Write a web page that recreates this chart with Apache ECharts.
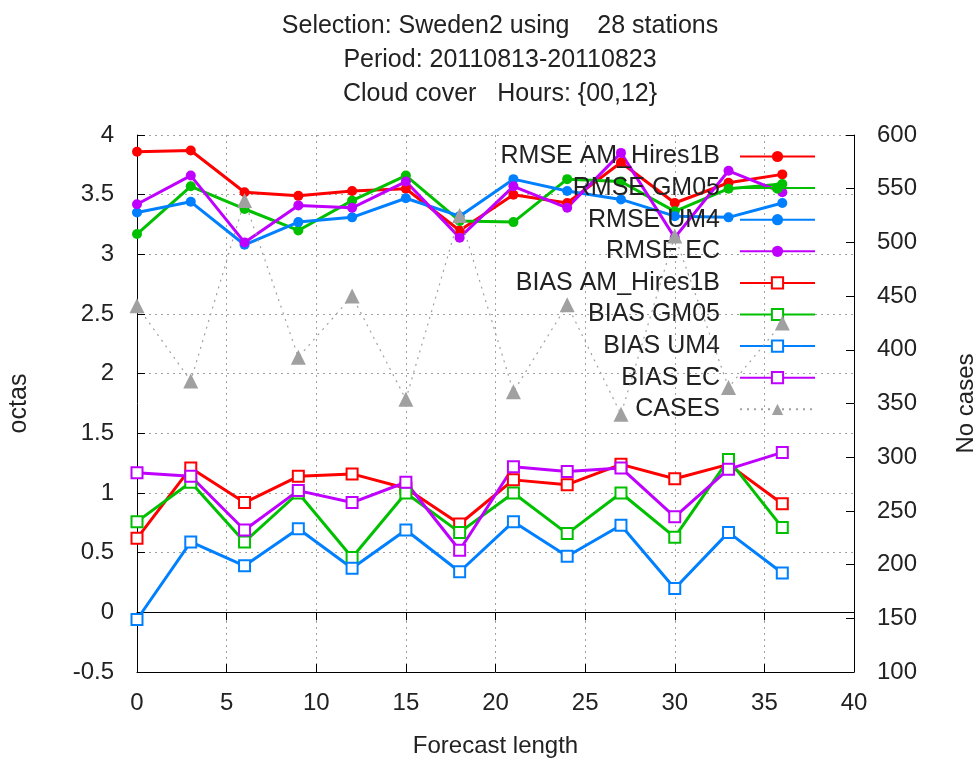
<!DOCTYPE html>
<html>
<head>
<meta charset="utf-8">
<script src="https://cdn.jsdelivr.net/npm/echarts@6/dist/echarts.min.js"></script>
<style>html,body{margin:0;padding:0;background:#fff}#c{width:977px;height:765px}</style>
</head>
<body>
<div id="c"></div>
<script>
const forecastHours = [0, 3, 6, 9, 12, 15, 18, 21, 24, 27, 30, 33, 36];
const rmseAM   = [3.86, 3.87, 3.52, 3.49, 3.53, 3.55, 3.20, 3.50, 3.43, 3.77, 3.43, 3.60, 3.67];
const rmseGM05 = [3.17, 3.57, 3.38, 3.20, 3.45, 3.66, 3.28, 3.27, 3.63, 3.61, 3.36, 3.55, 3.59];
const rmseUM4  = [3.35, 3.44, 3.08, 3.27, 3.31, 3.47, 3.32, 3.63, 3.53, 3.46, 3.32, 3.31, 3.43];
const rmseEC   = [3.42, 3.66, 3.10, 3.41, 3.39, 3.61, 3.14, 3.57, 3.39, 3.85, 3.14, 3.70, 3.52];
const biasAM   = [0.62, 1.21, 0.92, 1.14, 1.16, 1.04, 0.74, 1.11, 1.07, 1.24, 1.12, 1.24, 0.91];
const biasGM05 = [0.76, 1.09, 0.59, 1.00, 0.46, 1.00, 0.67, 1.00, 0.66, 1.00, 0.63, 1.28, 0.71];
const biasUM4  = [-0.06, 0.59, 0.39, 0.70, 0.37, 0.69, 0.34, 0.76, 0.47, 0.73, 0.20, 0.67, 0.33];
const biasEC   = [1.17, 1.14, 0.69, 1.02, 0.92, 1.09, 0.52, 1.22, 1.18, 1.21, 0.80, 1.20, 1.34];
const cases    = [441, 371, 539, 393, 450, 354, 525, 361, 442, 340, 506, 365, 425];

const titleText = 'Selection: Sweden2 using    28 stations\nPeriod: 20110813-20110823\nCloud cover   Hours: {00,12}';

const FONT = 'Liberation Sans';
const TXT = '#222';
const pair = arr => forecastHours.map((h, i) => [h, arr[i]]);

function rmseSeries(name, color, data) {
  return {
    name, type: 'line', data: pair(data), yAxisIndex: 0,
    symbol: 'circle', symbolSize: 10,
    color: color,
    itemStyle: { color: color },
    lineStyle: { color: color, width: 3 },
    emphasis: { disabled: true }, z: 3
  };
}
function biasSeries(name, color, data) {
  return {
    name, type: 'line', data: pair(data), yAxisIndex: 0,
    symbol: 'rect', symbolSize: 11,
    color: color,
    itemStyle: { color: '#fff', borderColor: color, borderWidth: 2 },
    lineStyle: { color: color, width: 3 },
    emphasis: { disabled: true }, z: 3
  };
}

const series = [
  rmseSeries('RMSE AM_Hires1B', '#ff0000', rmseAM),
  rmseSeries('RMSE GM05', '#00c000', rmseGM05),
  rmseSeries('RMSE UM4', '#0080ff', rmseUM4),
  rmseSeries('RMSE EC', '#c000ff', rmseEC),
  biasSeries('BIAS AM_Hires1B', '#ff0000', biasAM),
  biasSeries('BIAS GM05', '#00c000', biasGM05),
  biasSeries('BIAS UM4', '#0080ff', biasUM4),
  biasSeries('BIAS EC', '#c000ff', biasEC),
  {
    name: 'CASES', type: 'line', data: pair(cases), yAxisIndex: 1,
    symbol: 'triangle', symbolSize: 15,
    color: '#a0a0a0',
    itemStyle: { color: '#a0a0a0' },
    lineStyle: { color: '#a0a0a0', width: 1.2, type: [2, 5] },
    emphasis: { disabled: true }, z: 4
  }
];

const gridLine = { show: true, lineStyle: { color: '#a0a0a0', type: [2, 4], width: 1 } };
const chart = echarts.init(document.getElementById('c'), null, { renderer: 'canvas' });
chart.setOption({
  animation: false,
  backgroundColor: '#fff',
  textStyle: { fontFamily: FONT },
  title: {
    text: titleText, left: 495, top: 4, textAlign: 'center',
    textStyle: { fontFamily: FONT, fontSize: 25, fontWeight: 'normal', color: TXT, lineHeight: 34 }
  },
  grid: { left: 137, right: 123, top: 135, bottom: 93, containLabel: false, outerBoundsMode: 'none' },
  legend: {
    right: 156, top: 139, orient: 'vertical', align: 'right',
    itemWidth: 75, itemHeight: 14, itemGap: 6.6,
    textStyle: { fontFamily: FONT, fontSize: 25, color: TXT, padding: [0, 15, 0, 0] },
    data: series.map(s => s.name)
  },
  xAxis: [{
    type: 'value', min: 0, max: 40, interval: 5,
    name: 'Forecast length', nameLocation: 'middle', nameGap: 62,
    nameTextStyle: { fontFamily: FONT, fontSize: 24, color: TXT },
    axisLine: { show: true, onZero: false, lineStyle: { color: '#000', width: 1 } },
    axisTick: { show: true, inside: true, length: 8, lineStyle: { color: '#000' } },
    axisLabel: { fontFamily: FONT, fontSize: 24, color: TXT, margin: 19 },
    splitLine: gridLine
  }, {
    type: 'value', min: 0, max: 40, interval: 5, position: 'top',
    axisLine: { show: true, lineStyle: { color: '#000', width: 1 } },
    axisTick: { show: true, inside: true, length: 8, lineStyle: { color: '#000' } },
    axisLabel: { show: false }, splitLine: { show: false }
  }],
  yAxis: [{
    type: 'value', min: -0.5, max: 4, interval: 0.5,
    name: 'octas', nameLocation: 'middle', nameGap: 105, nameRotate: 90,
    nameTextStyle: { fontFamily: FONT, fontSize: 25, color: TXT },
    axisLine: { show: true, onZero: false, lineStyle: { color: '#000', width: 1 } },
    axisTick: { show: true, inside: true, length: 8, lineStyle: { color: '#000' } },
    axisLabel: { fontFamily: FONT, fontSize: 24, color: TXT, margin: 23 },
    splitLine: gridLine
  }, {
    type: 'value', min: 100, max: 600, interval: 50, position: 'right',
    name: 'No cases', nameLocation: 'middle', nameGap: 100, nameRotate: 90,
    nameTextStyle: { fontFamily: FONT, fontSize: 24, color: TXT },
    axisLine: { show: true, onZero: false, lineStyle: { color: '#000', width: 1 } },
    axisTick: { show: true, inside: true, length: 8, lineStyle: { color: '#000' } },
    axisLabel: { fontFamily: FONT, fontSize: 24, color: TXT, margin: 23 },
    splitLine: { show: false }
  }],
  series: series
});
</script>
</body>
</html>
